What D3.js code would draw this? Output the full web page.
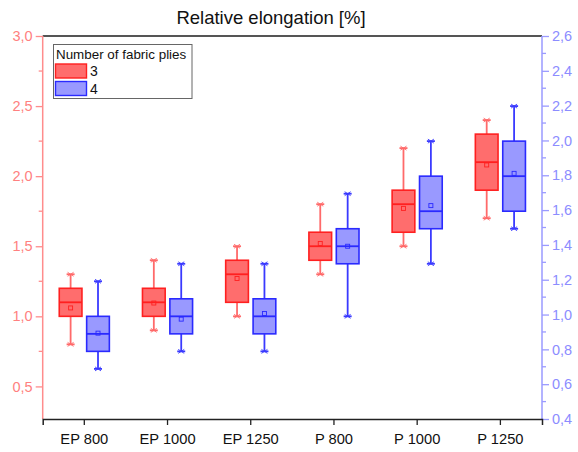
<!DOCTYPE html>
<html><head><meta charset="utf-8">
<script src="https://cdn.jsdelivr.net/npm/d3@7"></script>
<style>body{margin:0;background:#fff}svg{font-family:"Liberation Sans",Arial,sans-serif}</style>
</head><body><svg id="c" width="578" height="452"></svg>
<script>
const categories = ["EP 800","EP 1000","EP 1250","P 800","P 1000","P 1250"];
const seriesNames = ["3","4"];
// [whiskerLow, q1, median, q3, whiskerHigh, mean]
const plies3 = [
  [0.8, 1.0, 1.1, 1.2, 1.3, 1.06],
  [0.9, 1.0, 1.1, 1.2, 1.4, 1.095],
  [1.0, 1.1, 1.3, 1.4, 1.5, 1.27],
  [1.3, 1.4, 1.5, 1.6, 1.8, 1.52],
  [1.5, 1.6, 1.8, 1.9, 2.2, 1.77],
  [1.7, 1.9, 2.1, 2.3, 2.4, 2.08]
];
const plies4 = [
  [0.625, 0.75, 0.875, 1.0, 1.25, 0.88],
  [0.75, 0.875, 1.0, 1.125, 1.375, 0.98],
  [0.75, 0.875, 1.0, 1.125, 1.375, 1.02],
  [1.0, 1.375, 1.5, 1.625, 1.875, 1.5],
  [1.375, 1.625, 1.75, 2.0, 2.25, 1.79],
  [1.625, 1.75, 2.0, 2.25, 2.5, 2.02]
];
const leftTicks = [0.5,1.0,1.5,2.0,2.5,3.0];
const rightTicks = [0.4,0.6,0.8,1.0,1.2,1.4,1.6,1.8,2.0,2.2,2.4,2.6];
const title = "Relative elongation [%]";
const legendTitle = "Number of fabric plies";

const svg = d3.select("#c");
const L = 42.7, R = 542, T = 36, B = 419;
const x = d3.scaleBand().domain(categories).range([L, R]).padding(0);
const y = d3.scaleLinear().domain([0.2675, 3.0]).range([B, T]);
const yR = d3.scaleLinear().domain([0.4, 2.6]).range([B, T]);
const fmt = d => d3.format(".1f")(d).replace(".", ",");

const colors = [
  {fill:"rgba(255,40,40,0.68)", stroke:"#ff2020", whisk:"#ff6a6a"},
  {fill:"rgba(90,90,255,0.62)", stroke:"#2a2aff", whisk:"#3a3aff"}
];

// title
svg.append("text").attr("x", 271).attr("y", 24).attr("text-anchor","middle")
  .attr("font-size", 18.5).attr("fill","#111").text(title);

// frame top
svg.append("line").attr("x1", L).attr("x2", R).attr("y1", T).attr("y2", T)
  .attr("stroke","#555").attr("stroke-width",2);

// left axis
const gl = svg.append("g").attr("transform",`translate(${L},0)`)
  .call(d3.axisLeft(y).tickValues(leftTicks).tickFormat(fmt).tickSize(7).tickPadding(3));
gl.select(".domain").remove();
gl.selectAll(".tick line").attr("stroke","#ff8c8c").attr("stroke-width",1.3);
gl.selectAll(".tick text").attr("fill","#ff8080").attr("font-size",14.5)
  .attr("font-family","'Liberation Sans',Arial,sans-serif");
const minorL = d3.range(0.75, 3.0, 0.5);
gl.selectAll(".mn").data(minorL).enter().append("line")
  .attr("x1",-4).attr("x2",0).attr("y1",d=>y(d)).attr("y2",d=>y(d))
  .attr("stroke","#ff8c8c").attr("stroke-width",1.3);
svg.append("line").attr("x1",L).attr("x2",L).attr("y1",T).attr("y2",B)
  .attr("stroke","#ff8c8c").attr("stroke-width",1.5);

// right axis
const gr = svg.append("g").attr("transform",`translate(${R},0)`)
  .call(d3.axisRight(yR).tickValues(rightTicks).tickFormat(fmt).tickSize(7).tickPadding(3));
gr.select(".domain").remove();
gr.selectAll(".tick line").attr("stroke","#9a9aff").attr("stroke-width",1.3);
gr.selectAll(".tick text").attr("fill","#8c8cff").attr("font-size",14.5)
  .attr("font-family","'Liberation Sans',Arial,sans-serif");
const minorR = d3.range(0.5, 2.6, 0.2);
gr.selectAll(".mn").data(minorR).enter().append("line")
  .attr("x1",0).attr("x2",4).attr("y1",d=>yR(d)).attr("y2",d=>yR(d))
  .attr("stroke","#9a9aff").attr("stroke-width",1.3);
svg.append("line").attr("x1",R).attr("x2",R).attr("y1",T).attr("y2",B)
  .attr("stroke","#9a9aff").attr("stroke-width",1.5);

// bottom axis
const gb = svg.append("g").attr("transform",`translate(0,${B})`)
  .call(d3.axisBottom(x).tickSize(6).tickPadding(9));
gb.select(".domain").attr("stroke","#222").attr("stroke-width",1.5);
gb.selectAll(".tick line").attr("stroke","#222").attr("stroke-width",1.3);
gb.selectAll(".tick text").attr("fill","#111").attr("font-size",14.7)
  .attr("font-family","'Liberation Sans',Arial,sans-serif");

// boxes
const boxW = 22.7, off = 13.7, capW = 8;
[plies3, plies4].forEach((series, si) => {
  const c = colors[si];
  const g = svg.append("g");
  series.forEach((d, i) => {
    const cx = x(categories[i]) + x.bandwidth()/2 + (si === 0 ? -off : off);
    const [lo, q1, med, q3, hi, mean] = d;
    g.append("line").attr("x1",cx).attr("x2",cx).attr("y1",y(hi)).attr("y2",y(q3))
      .attr("stroke",c.whisk).attr("stroke-width",1.8);
    g.append("line").attr("x1",cx).attr("x2",cx).attr("y1",y(q1)).attr("y2",y(lo))
      .attr("stroke",c.whisk).attr("stroke-width",1.8);
    [lo, hi].forEach(v => {
      g.append("line").attr("x1",cx-capW/2).attr("x2",cx+capW/2).attr("y1",y(v)).attr("y2",y(v))
        .attr("stroke",c.whisk).attr("stroke-width",1.8);
      g.append("path").attr("d",`M${cx-3},${y(v)-2}L${cx+3},${y(v)+2}M${cx-3},${y(v)+2}L${cx+3},${y(v)-2}`)
        .attr("stroke",c.whisk).attr("stroke-width",0.9);
    });
    g.append("rect").attr("x",cx-boxW/2).attr("width",boxW)
      .attr("y",y(q3)).attr("height",y(q1)-y(q3))
      .attr("fill",c.fill).attr("stroke",c.stroke).attr("stroke-width",1.6);
    g.append("line").attr("x1",cx-boxW/2).attr("x2",cx+boxW/2).attr("y1",y(med)).attr("y2",y(med))
      .attr("stroke",c.stroke).attr("stroke-width",1.8);
    g.append("rect").attr("x",cx-2).attr("y",y(mean)-2).attr("width",4).attr("height",4)
      .attr("fill","none").attr("stroke",c.stroke).attr("stroke-width",0.9);
  });
});

// legend
const lg = svg.append("g");
lg.append("rect").attr("x",53.5).attr("y",44.5).attr("width",138.5).attr("height",54)
  .attr("fill","#fff").attr("stroke","#666").attr("stroke-width",1);
lg.append("text").attr("x",56).attr("y",59).attr("font-size",13.4).attr("fill","#111").text(legendTitle);
seriesNames.forEach((n, i) => {
  const yy = 64 + i*17.5;
  lg.append("rect").attr("x",55.5).attr("y",yy).attr("width",31).attr("height",14)
    .attr("fill",colors[i].fill).attr("stroke",colors[i].stroke).attr("stroke-width",1.4);
  lg.append("text").attr("x",90).attr("y",yy+12).attr("font-size",14).attr("fill","#111").text(n);
});
</script></body></html>
